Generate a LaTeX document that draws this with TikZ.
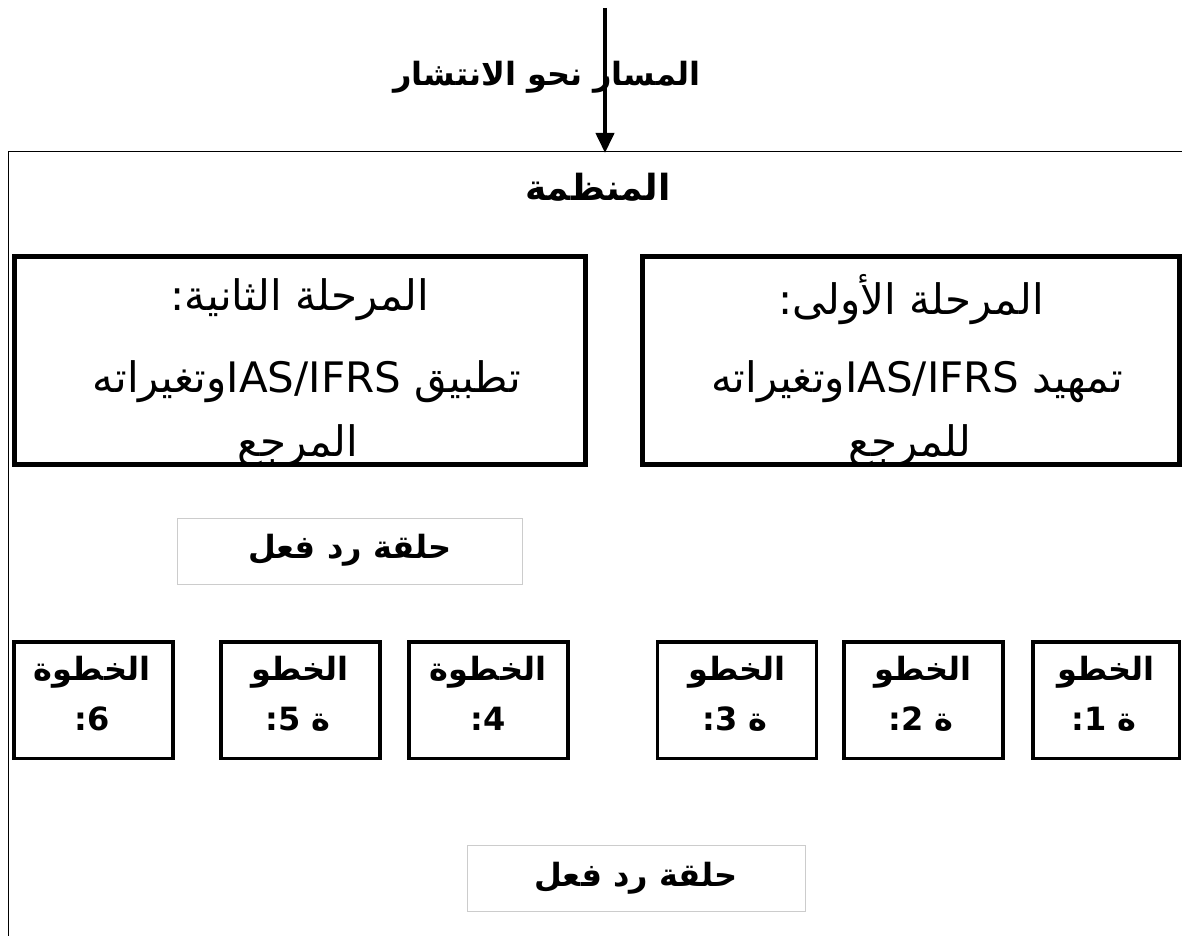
\documentclass[tikz,border=0pt]{standalone}
\usepackage{fontspec}
\setmainfont{DejaVu Sans}
\newfontfamily\arfont[Script=Arabic]{DejaVu Sans}
\TeXXeTstate=1
\usetikzlibrary{arrows.meta}
\newcommand\RL[1]{\arfont\beginR #1\endR}
\tikzset{
  phasebox/.style={draw, line width=5pt, minimum height=208pt, inner sep=0pt},
  stepbox/.style={draw, line width=3.5pt, minimum width=159pt, minimum height=116.5pt, inner sep=0pt},
  fbbox/.style={draw=black!20, line width=1pt, minimum width=345pt, minimum height=66pt, inner sep=0pt},
  bigtxt/.style={font=\fontsize{42}{48}\selectfont, inner sep=0pt},
  boldtxt/.style={font=\fontsize{32}{38}\selectfont\bfseries, inner sep=0pt},
  steptxt/.style={font=\fontsize{32}{38}\selectfont\bfseries, inner sep=0pt},
  framel/.style={line width=1pt},
  arr/.style={line width=4pt, -{Triangle[length=20pt,width=18pt]}}
}
\begin{document}
\begin{tikzpicture}[x=1pt,y=-1pt]
\useasboundingbox (0,0) rectangle (1182,936);
% frame
\coordinate (fr) at (1182,152);
\coordinate (fl) at (8,152);
\coordinate (fb) at (8,936);
\draw[framel] (fr) -- (fl) -- (fb);
% title and arrow
\node[boldtxt] (title) at (547,77) {\RL{المسار نحو الانتشار}};
\coordinate (atop) at (605,8);
\coordinate (abot) at (605,153);
\draw[arr] (atop) -- (abot);
\node[boldtxt, font=\fontsize{36}{42}\selectfont\bfseries] (org) at (598,187) {\RL{المنظمة}};
% phase boxes text (clipped)
\begin{scope}
\clip (15,257) rectangle (585,463);
\node[bigtxt] (p2a) at (300,300) {\RL{المرحلة الثانية:}};
\node[bigtxt] (p2b) at (307,382) {\RL{تطبيق \beginL IAS/IFRS\endL وتغيراته}};
\node[bigtxt] (p2c) at (298,446) {\RL{المرجع}};
\end{scope}
\begin{scope}
\clip (643,257) rectangle (1179,463);
\node[bigtxt] (p1a) at (911,300) {\RL{المرحلة الأولى:}};
\node[bigtxt] (p1b) at (917,382) {\RL{تمهيد \beginL IAS/IFRS\endL وتغيراته}};
\node[bigtxt] (p1c) at (910,446) {\RL{للمرجع}};
\end{scope}
\node[phasebox, minimum width=571pt] (phase2) at (300,360.5) {};
\node[phasebox, minimum width=537pt] (phase1) at (911,360.5) {};
% feedback boxes
\node[fbbox] (fb1) at (349.5,551) {};
\node[boldtxt] (fb1t) at (350,550) {\RL{حلقة رد فعل}};
\node[fbbox, minimum width=338pt] (fb2) at (636,878) {};
\node[boldtxt] (fb2t) at (636,878) {\RL{حلقة رد فعل}};
% step boxes
\node[stepbox] (s6) at (93.5,700) {};
\node[steptxt] (s6a) at (92,672) {\RL{الخطوة}};
\node[steptxt] (s6b) at (92,719) {\RL{6:}};
\node[stepbox] (s5) at (300.5,700) {};
\node[steptxt] (s5a) at (300,672) {\RL{الخطو}};
\node[steptxt] (s5b) at (298,719) {\RL{ة 5:}};
\node[stepbox] (s4) at (488.5,700) {};
\node[steptxt] (s4a) at (488,672) {\RL{الخطوة}};
\node[steptxt] (s4b) at (488,719) {\RL{4:}};
\node[stepbox] (s3) at (737,700) {};
\node[steptxt] (s3a) at (737,672) {\RL{الخطو}};
\node[steptxt] (s3b) at (735,719) {\RL{ة 3:}};
\node[stepbox] (s2) at (923.5,700) {};
\node[steptxt] (s2a) at (923,672) {\RL{الخطو}};
\node[steptxt] (s2b) at (921,719) {\RL{ة 2:}};
\node[stepbox, minimum width=146.5pt] (s1) at (1106,700) {};
\node[steptxt] (s1a) at (1106,672) {\RL{الخطو}};
\node[steptxt] (s1b) at (1104,719) {\RL{ة 1:}};
\end{tikzpicture}
\end{document}
